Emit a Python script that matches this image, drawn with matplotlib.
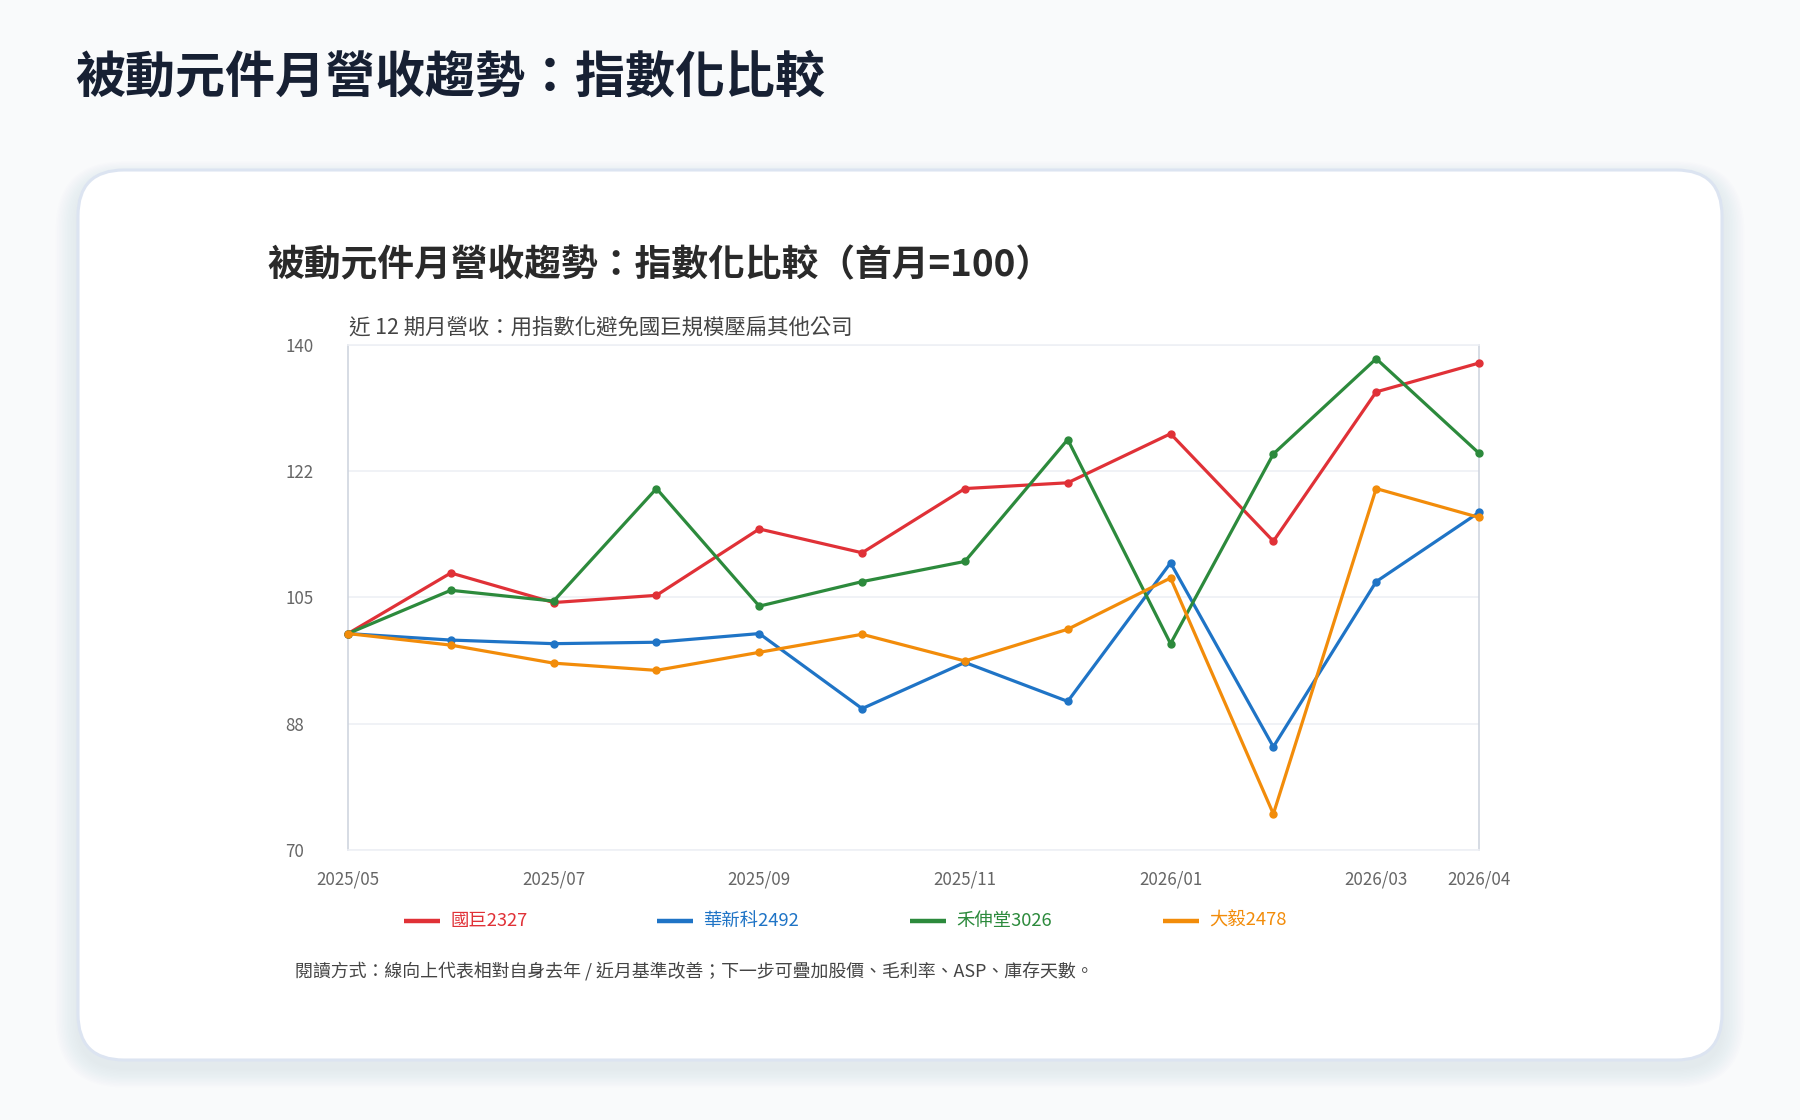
import matplotlib
matplotlib.use('Agg')
import matplotlib.pyplot as plt
from matplotlib.patches import FancyBboxPatch
from matplotlib.lines import Line2D

plt.rcParams['font.family'] = ['Noto Sans CJK TC', 'DejaVu Sans']

# ---------------- data ----------------
months = ['2025/05', '2025/06', '2025/07', '2025/08', '2025/09', '2025/10',
          '2025/11', '2025/12', '2026/01', '2026/02', '2026/03', '2026/04']
yageo_2327 = [100.0, 108.4, 104.3, 105.3, 114.5, 111.2, 120.1, 120.9, 127.7, 112.8, 133.5, 137.5]
walsin_2492 = [100.0, 99.1, 98.6, 98.8, 100.0, 89.6, 96.0, 90.6, 109.8, 84.3, 107.2, 116.8]
holystone_3026 = [100.0, 106.0, 104.5, 120.1, 103.8, 107.2, 110.0, 126.9, 98.6, 124.9, 138.1, 125.0]
ralec_2478 = [100.0, 98.4, 95.9, 94.9, 97.4, 99.9, 96.2, 100.6, 107.7, 75.0, 120.1, 116.1]
series_names = ['國巨2327', '華新科2492', '禾伸堂3026', '大毅2478']
series_colors = ['#e03137', '#1f74c6', '#2c8a3c', '#f28c0a']
y_ticks = [70, 87.5, 105, 122.5, 140]
y_tick_labels = ['70', '88', '105', '122', '140']
x_tick_labels = ['2025/05', '2025/07', '2025/09', '2025/11', '2026/01', '2026/03', '2026/04']

page_title = '被動元件月營收趨勢：指數化比較'
chart_title = '被動元件月營收趨勢：指數化比較（首月=100）'
subtitle = '近 12 期月營收：用指數化避免國巨規模壓扁其他公司'
footnote = '閱讀方式：線向上代表相對自身去年 / 近月基準改善；下一步可疊加股價、毛利率、ASP、庫存天數。'

# ---------------- figure ----------------
W, H = 1800, 1120
fig = plt.figure(figsize=(W / 100, H / 100), dpi=100)
fig.patch.set_facecolor('#f9fafb')

bg = fig.add_axes([0, 0, 1, 1], zorder=0)
bg.set_xlim(0, W)
bg.set_ylim(H, 0)
bg.axis('off')

# card shadow
cx, cy, cw, ch, rr = 78, 170, 1644, 890, 46
for i in range(14, 0, -1):
    bg.add_patch(FancyBboxPatch((cx - i * 1.6, cy - i * 1.2 + 8), cw + i * 3.2, ch + i * 2.6,
                                boxstyle=f"round,pad=0,rounding_size={rr + i * 1.6}",
                                facecolor='#6b7890', edgecolor='none', alpha=0.008))
bg.add_patch(FancyBboxPatch((cx, cy), cw, ch, boxstyle=f"round,pad=0,rounding_size={rr}",
                            facecolor='white', edgecolor='#dce4f1', linewidth=2.2))

bg.text(75, 78, page_title, fontsize=36, fontweight='bold', color='#172033',
        ha='left', va='center')
bg.text(267, 266, chart_title, fontsize=26.5, fontweight='bold', color='#2a2a2a',
        ha='left', va='center')
bg.text(349, 328, subtitle, fontsize=15.4, color='#444444', ha='left', va='center')
bg.text(295, 971, footnote, fontsize=12.9, color='#444444', ha='left', va='center')

# legend (uniform slots)
leg_x0, leg_dx, leg_y = 404, 253, 921
for k, (name, col) in enumerate(zip(series_names, series_colors)):
    x0 = leg_x0 + k * leg_dx
    bg.add_line(Line2D([x0, x0 + 36], [leg_y, leg_y], color=col, linewidth=3.2,
                       solid_capstyle='butt'))
    bg.text(x0 + 46, leg_y, name, fontsize=13.2, color=col, ha='left', va='center')

# ---------------- plot ----------------
L, R, T, B = 348, 1479, 345, 850
ax = fig.add_axes([L / W, 1 - B / H, (R - L) / W, (B - T) / H], zorder=2)
ax.set_facecolor('none')
xs = list(range(len(months)))
for vals, col in zip([yageo_2327, walsin_2492, holystone_3026, ralec_2478], series_colors):
    ax.plot(xs, vals, color=col, linewidth=2.3, marker='o', markersize=5,
            clip_on=False, zorder=3)

ax.set_xlim(0, len(months) - 1)
ax.set_ylim(70, 140)
ax.set_yticks(y_ticks)
ax.set_yticklabels(y_tick_labels)
ax.set_xticks([months.index(m) for m in x_tick_labels])
ax.set_xticklabels(x_tick_labels)
ax.tick_params(axis='both', length=0, labelsize=12.2, labelcolor='#666666')
ax.tick_params(axis='y', pad=45)
ax.tick_params(axis='x', pad=15)
for lbl in ax.get_yticklabels():
    lbl.set_horizontalalignment('left')
ax.grid(axis='y', color='#eef0f5', linewidth=1.2)
ax.set_axisbelow(True)
for s in ['top', 'bottom']:
    ax.spines[s].set_color('#eef0f5')
    ax.spines[s].set_linewidth(1.2)
for s in ['left', 'right']:
    ax.spines[s].set_color('#cfd5df')
    ax.spines[s].set_linewidth(1.2)

fig.savefig('out.png', dpi=100, facecolor=fig.get_facecolor())
